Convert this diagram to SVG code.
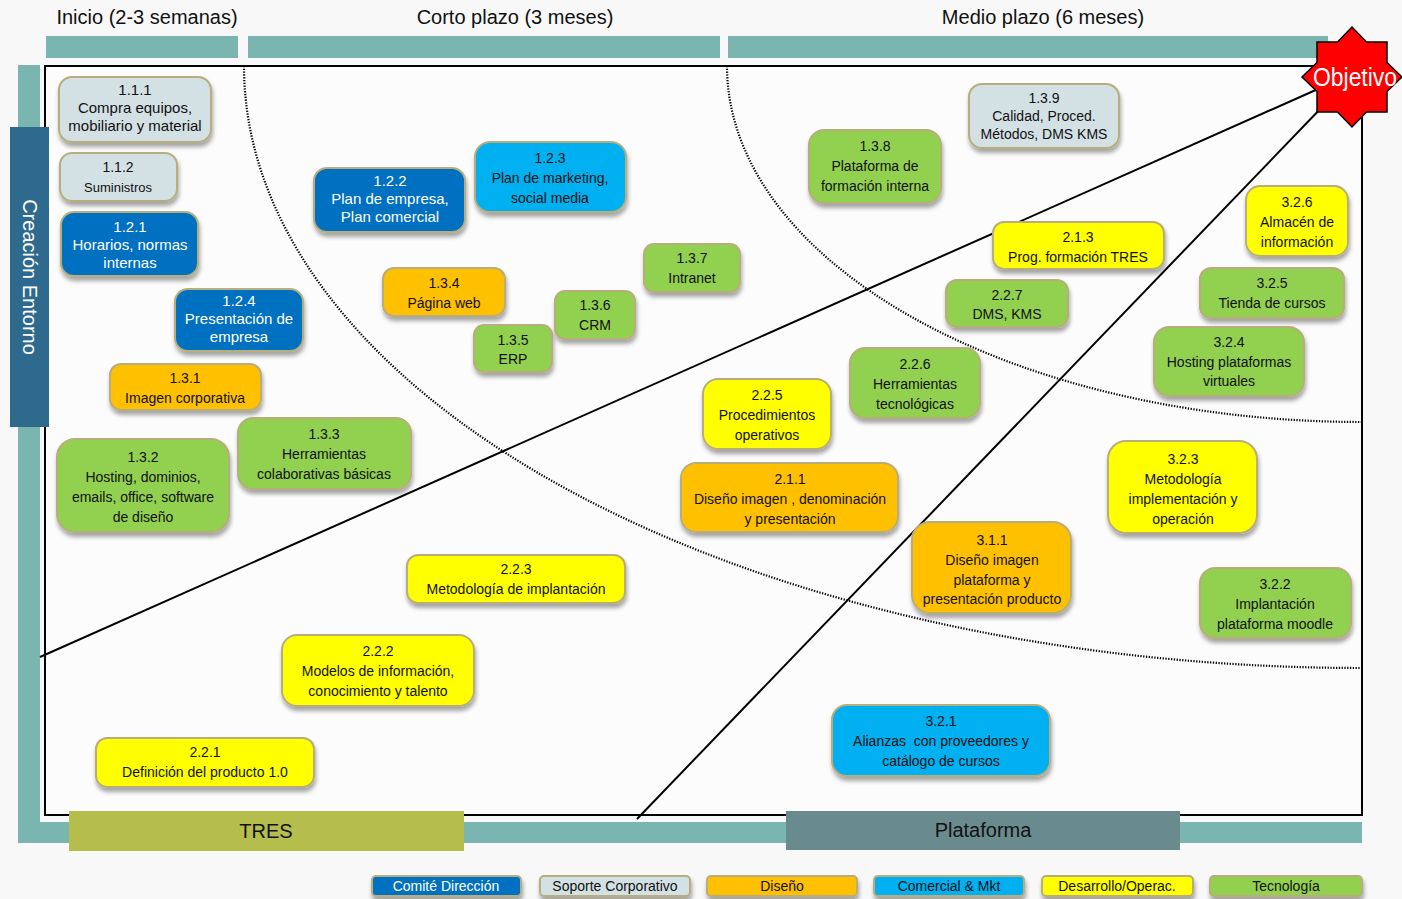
<svg xmlns="http://www.w3.org/2000/svg" width="1402" height="899" viewBox="0 0 1402 899">
<defs>
<filter id="sh" x="-10%" y="-10%" width="120%" height="140%">
<feDropShadow dx="1" dy="4" stdDeviation="2" flood-color="#000" flood-opacity="0.35"/>
</filter>
<style>
.bg{fill:#f8f8f8}
.teal{fill:#7ab5b0}
.dot{fill:none;stroke:#000;stroke-width:2.2;stroke-dasharray:1.3 1.5}
.ln{stroke:#000;stroke-width:2;fill:none}
.n rect{stroke:#b8ad7c;stroke-width:2;filter:url(#sh)}
.sop{fill:#d3e1e5}
.com{fill:#0070c0}
.dis{fill:#ffc000}
.mkt{fill:#00b0f0}
.des{fill:#ffff00}
.tec{fill:#92d050}
text{font-family:"Liberation Sans",Arial,sans-serif;text-anchor:middle;fill:#111}
.t{font-size:14px}
.c{font-size:15px}
.w{fill:#fff}
.hd{font-size:20px}
.lg rect{stroke:#b8ad7c;stroke-width:2;filter:url(#sh)}
.lg text{font-size:14px}
</style>
</defs>
<rect class="bg" x="0" y="0" width="1402" height="899"/>

<!-- headers -->
<g id="headers">
<rect class="teal" x="46" y="36" width="192" height="22"/>
<rect class="teal" x="248" y="36" width="472" height="22"/>
<rect class="teal" x="728" y="36" width="600" height="22"/>
<text class="hd" x="147" y="24">Inicio (2-3 semanas)</text>
<text class="hd" x="515" y="24">Corto plazo (3 meses)</text>
<text class="hd" x="1043" y="24">Medio plazo (6 meses)</text>
</g>

<!-- frame -->
<g id="frame">
<rect class="teal" x="18" y="65" width="22" height="778"/>
<rect class="teal" x="18" y="822" width="1344" height="21"/>
<rect x="45" y="66" width="1317" height="749" fill="#fcfcfc" stroke="#000" stroke-width="2"/>
<path class="dot" d="M244,66 A1118,602 0 0 0 1362,668"/>
<path class="dot" d="M727,66 A635,356 0 0 0 1362,422"/>
</g>

<g id="side">
<rect x="10" y="127" width="39" height="300" fill="#2e6a8e"/>
<text class="hd w" transform="translate(23,277) rotate(90)" x="0" y="0">Creación Entorno</text>
</g>

<g id="tres">
<rect x="69" y="811" width="395" height="40" fill="#b5bd4d"/>
<text class="hd" x="266" y="838">TRES</text>
</g>
<g id="plataforma">
<rect x="786" y="811" width="394" height="39" fill="#6a8b8d"/>
<text class="hd" x="983" y="837">Plataforma</text>
</g>

<!-- connectors -->
<g id="connectors">
<line class="ln" x1="1318" y1="89" x2="40" y2="657"/>
<line class="ln" x1="1325" y1="104" x2="637" y2="819"/>
</g>

<g id="objetivo">
<polygon points="1402,77 1387,62.5 1387,42 1366.5,42 1352,27 1337.5,42 1317,42 1317,62.5 1302,77 1317,91.5 1317,112 1337.5,112 1352,127 1366.5,112 1387,112 1387,91.5" fill="#ff0000" stroke="#000" stroke-width="1.5"/>
<text x="1355" y="86" font-size="25" style="fill:#fff" textLength="84" lengthAdjust="spacingAndGlyphs">Objetivo</text>
</g>

<!-- nodes -->
<g id="n111" class="n"><rect class="sop" x="59" y="77" width="152" height="65" rx="13"/>
<text class="c"><tspan x="135" y="95">1.1.1</tspan><tspan x="135" y="113">Compra equipos,</tspan><tspan x="135" y="131">mobiliario y material</tspan></text></g>

<g id="n112" class="n"><rect class="sop" x="60" y="153" width="117" height="48" rx="12"/>
<text class="t"><tspan x="118" y="172">1.1.2</tspan><tspan x="118" y="192" font-size="13">Suministros</tspan></text></g>

<g id="n121" class="n"><rect class="com" x="61" y="212" width="137" height="64" rx="13"/>
<text class="c w"><tspan x="130" y="232">1.2.1</tspan><tspan x="130" y="250">Horarios, normas</tspan><tspan x="130" y="268">internas</tspan></text></g>

<g id="n124" class="n"><rect class="com" x="175" y="289" width="128" height="62" rx="13"/>
<text class="c w"><tspan x="239" y="306">1.2.4</tspan><tspan x="239" y="324">Presentación de</tspan><tspan x="239" y="342">empresa</tspan></text></g>

<g id="n131" class="n"><rect class="dis" x="110" y="364" width="151" height="46" rx="11"/>
<text class="t"><tspan x="185" y="383">1.3.1</tspan><tspan x="185" y="403">Imagen corporativa</tspan></text></g>

<g id="n132" class="n"><rect class="tec" x="57" y="439" width="172" height="93" rx="18"/>
<text class="t"><tspan x="143" y="462">1.3.2</tspan><tspan x="143" y="482">Hosting, dominios,</tspan><tspan x="143" y="502">emails, office, software</tspan><tspan x="143" y="522">de diseño</tspan></text></g>

<g id="n133" class="n"><rect class="tec" x="238" y="418" width="173" height="71" rx="15"/>
<text class="t"><tspan x="324" y="439">1.3.3</tspan><tspan x="324" y="459">Herramientas</tspan><tspan x="324" y="479">colaborativas básicas</tspan></text></g>

<g id="n122" class="n"><rect class="com" x="314" y="168" width="151" height="64" rx="13"/>
<text class="c w"><tspan x="390" y="186">1.2.2</tspan><tspan x="390" y="204">Plan de empresa,</tspan><tspan x="390" y="222">Plan comercial</tspan></text></g>

<g id="n123" class="n"><rect class="mkt" x="475" y="142" width="151" height="70" rx="15"/>
<text class="t"><tspan x="550" y="163">1.2.3</tspan><tspan x="550" y="183">Plan de marketing,</tspan><tspan x="550" y="203">social media</tspan></text></g>

<g id="n134" class="n"><rect class="dis" x="383" y="268" width="122" height="48" rx="11"/>
<text class="t"><tspan x="444" y="288">1.3.4</tspan><tspan x="444" y="308">Página web</tspan></text></g>

<g id="n135" class="n"><rect class="tec" x="474" y="325" width="78" height="47" rx="10"/>
<text class="t"><tspan x="513" y="345">1.3.5</tspan><tspan x="513" y="364">ERP</tspan></text></g>

<g id="n136" class="n"><rect class="tec" x="555" y="291" width="80" height="48" rx="10"/>
<text class="t"><tspan x="595" y="310">1.3.6</tspan><tspan x="595" y="330">CRM</tspan></text></g>

<g id="n137" class="n"><rect class="tec" x="644" y="244" width="96" height="48" rx="10"/>
<text class="t"><tspan x="692" y="263">1.3.7</tspan><tspan x="692" y="283">Intranet</tspan></text></g>

<g id="n138" class="n"><rect class="tec" x="809" y="130" width="132" height="73" rx="15"/>
<text class="t"><tspan x="875" y="151">1.3.8</tspan><tspan x="875" y="171">Plataforma de</tspan><tspan x="875" y="191">formación interna</tspan></text></g>

<g id="n139" class="n"><rect class="sop" x="969" y="84" width="150" height="64" rx="13"/>
<text class="t"><tspan x="1044" y="103">1.3.9</tspan><tspan x="1044" y="121">Calidad, Proced.</tspan><tspan x="1044" y="139">Métodos, DMS KMS</tspan></text></g>

<g id="n213" class="n"><rect class="des" x="993" y="222" width="171" height="47" rx="11"/>
<text class="t"><tspan x="1078" y="242">2.1.3</tspan><tspan x="1078" y="262">Prog. formación TRES</tspan></text></g>

<g id="n227" class="n"><rect class="tec" x="946" y="280" width="122" height="47" rx="11"/>
<text class="t"><tspan x="1007" y="300">2.2.7</tspan><tspan x="1007" y="319">DMS, KMS</tspan></text></g>

<g id="n326" class="n"><rect class="des" x="1246" y="186" width="102" height="70" rx="14"/>
<text class="t"><tspan x="1297" y="207">3.2.6</tspan><tspan x="1297" y="227">Almacén de</tspan><tspan x="1297" y="247">información</tspan></text></g>

<g id="n325" class="n"><rect class="tec" x="1200" y="268" width="144" height="50" rx="11"/>
<text class="t"><tspan x="1272" y="288">3.2.5</tspan><tspan x="1272" y="308">Tienda de cursos</tspan></text></g>

<g id="n324" class="n"><rect class="tec" x="1154" y="327" width="150" height="69" rx="15"/>
<text class="t"><tspan x="1229" y="347">3.2.4</tspan><tspan x="1229" y="367">Hosting plataformas</tspan><tspan x="1229" y="386">virtuales</tspan></text></g>

<g id="n226" class="n"><rect class="tec" x="850" y="348" width="130" height="70" rx="15"/>
<text class="t"><tspan x="915" y="369">2.2.6</tspan><tspan x="915" y="389">Herramientas</tspan><tspan x="915" y="409">tecnológicas</tspan></text></g>

<g id="n225" class="n"><rect class="des" x="703" y="379" width="128" height="70" rx="15"/>
<text class="t"><tspan x="767" y="400">2.2.5</tspan><tspan x="767" y="420">Procedimientos</tspan><tspan x="767" y="440">operativos</tspan></text></g>

<g id="n211" class="n"><rect class="dis" x="681" y="463" width="217" height="69" rx="15"/>
<text class="t"><tspan x="790" y="484">2.1.1</tspan><tspan x="790" y="504">Diseño imagen , denominación</tspan><tspan x="790" y="524">y presentación</tspan></text></g>

<g id="n311" class="n"><rect class="dis" x="912" y="522" width="159" height="91" rx="18"/>
<text class="t"><tspan x="992" y="545">3.1.1</tspan><tspan x="992" y="565">Diseño imagen</tspan><tspan x="992" y="585">plataforma y</tspan><tspan x="992" y="604">presentación producto</tspan></text></g>

<g id="n323" class="n"><rect class="des" x="1108" y="441" width="149" height="92" rx="18"/>
<text class="t"><tspan x="1183" y="464">3.2.3</tspan><tspan x="1183" y="484">Metodología</tspan><tspan x="1183" y="504">implementación y</tspan><tspan x="1183" y="524">operación</tspan></text></g>

<g id="n322" class="n"><rect class="tec" x="1200" y="568" width="151" height="70" rx="15"/>
<text class="t"><tspan x="1275" y="589">3.2.2</tspan><tspan x="1275" y="609">Implantación</tspan><tspan x="1275" y="629">plataforma moodle</tspan></text></g>

<g id="n223" class="n"><rect class="des" x="407" y="555" width="218" height="48" rx="11"/>
<text class="t"><tspan x="516" y="574">2.2.3</tspan><tspan x="516" y="594">Metodología de implantación</tspan></text></g>

<g id="n222" class="n"><rect class="des" x="282" y="635" width="192" height="71" rx="15"/>
<text class="t"><tspan x="378" y="656">2.2.2</tspan><tspan x="378" y="676">Modelos de información,</tspan><tspan x="378" y="696">conocimiento y talento</tspan></text></g>

<g id="n221" class="n"><rect class="des" x="96" y="738" width="218" height="49" rx="11"/>
<text class="t"><tspan x="205" y="757">2.2.1</tspan><tspan x="205" y="777">Definición del producto 1.0</tspan></text></g>

<g id="n321" class="n"><rect class="mkt" x="832" y="705" width="218" height="71" rx="15"/>
<text class="t"><tspan x="941" y="726">3.2.1</tspan><tspan x="941" y="746">Alianzas&#160; con proveedores y</tspan><tspan x="941" y="766">catálogo de cursos</tspan></text></g>

<!-- legend -->
<g id="legend" class="lg">
<rect class="com" x="372" y="876" width="149" height="20" rx="4"/><text class="w" x="446" y="891">Comité Dirección</text>
<rect class="sop" x="540" y="876" width="150" height="20" rx="4"/><text x="615" y="891">Soporte Corporativo</text>
<rect class="dis" x="707" y="876" width="150" height="20" rx="4"/><text x="782" y="891">Diseño</text>
<rect class="mkt" x="874" y="876" width="150" height="20" rx="4"/><text x="949" y="891">Comercial &amp; Mkt</text>
<rect class="des" x="1042" y="876" width="151" height="20" rx="4"/><text x="1117" y="891">Desarrollo/Operac.</text>
<rect class="tec" x="1210" y="876" width="152" height="20" rx="4"/><text x="1286" y="891">Tecnología</text>
</g>
</svg>
